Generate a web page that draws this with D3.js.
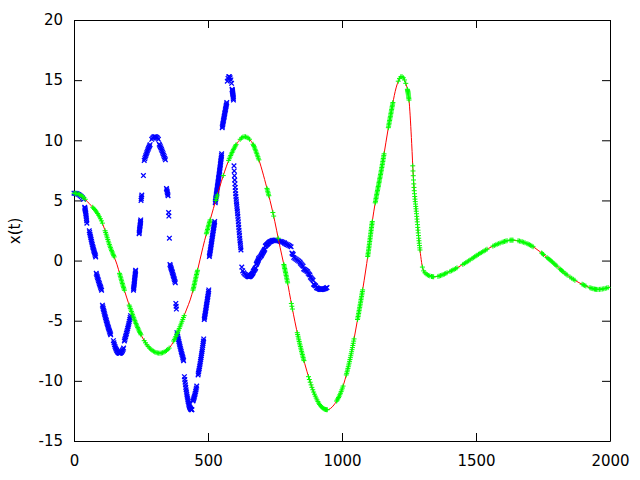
<!DOCTYPE html>
<html><head><meta charset="utf-8">
<script src="https://cdn.jsdelivr.net/npm/d3@7"></script>
<style>
body{margin:0;background:#fff}
svg{display:block}
</style>
</head><body>
<svg id="chart" width="640" height="480"></svg>
<script>
// Red reference curve x(t), control points
const curveT = [0, 20, 50, 108, 134, 160, 183, 209, 253, 283, 320, 358, 388, 414, 440, 459, 481, 507, 533, 556, 582, 610, 636, 662, 685, 720, 743, 769, 794, 813, 836, 869, 899, 925, 945, 970, 1000, 1030, 1058, 1078, 1097, 1114, 1149, 1179, 1205, 1222, 1241, 1251, 1260, 1266, 1279, 1291, 1303, 1320, 1345, 1403, 1460, 1515, 1578, 1634, 1701, 1776, 1840, 1899, 1955, 2000];
const curveX = [5.6, 5.5, 4.9, 3.0, 1.2, -0.3, -2.1, -3.9, -6.3, -7.3, -7.7, -7.2, -5.9, -4.4, -2.8, -1.0, 1.1, 3.3, 5.3, 7.0, 8.6, 9.8, 10.3, 9.9, 8.7, 6.0, 3.9, 1.1, -1.5, -3.8, -6.3, -9.2, -11.2, -12.2, -12.4, -12.0, -10.7, -8.2, -4.9, -2.3, 0.5, 3.4, 7.8, 11.8, 14.6, 15.3, 14.5, 13.1, 9.75, 7.0, 3.65, 0.88, -0.78, -1.2, -1.35, -0.9, -0.2, 0.6, 1.35, 1.7, 1.3, 0.05, -1.2, -2.0, -2.4, -2.2];

// Sample bursts: time span (green "+", on the curve) and the matching span on the
// compressed axis of the blue "x" copy, with the number of samples in each burst
const burstT0   = [0, 70, 116, 170, 206, 262, 372, 444, 494, 529, 557, 577, 620, 668, 720, 742, 762, 783, 811, 833, 875, 980, 1016, 1058, 1096, 1124, 1173, 1210, 1244, 1264, 1300, 1334, 1358, 1403, 1451, 1485, 1504, 1563, 1597, 1627, 1657, 1690, 1745, 1765, 1790, 1813, 1832, 1851, 1896, 1925, 1942, 1955];
const burstT1   = [42, 106, 150, 188, 250, 355, 411, 461, 508, 535, 557, 605, 655, 690, 727, 745, 762, 797, 815, 858, 945, 1004, 1045, 1077, 1113, 1157, 1190, 1238, 1250, 1291, 1328, 1342, 1392, 1429, 1478, 1500, 1541, 1590, 1616, 1638, 1683, 1713, 1752, 1785, 1802, 1825, 1840, 1869, 1910, 1937, 1950, 1993];
const burstTau0 = [0, 40, 57, 83, 106, 147, 188, 222, 243, 250, 259, 262, 290, 318, 345, 353, 356, 358, 380, 384, 412, 444, 463, 486, 505, 527, 553, 572, 590, 597, 626, 649, 656, 669, 680, 689, 699, 714, 728, 742, 760, 787, 813, 820, 845, 857, 874, 882, 894, 905, 916, 922];
const burstTau1 = [36, 48, 81, 103, 137, 185, 211, 230, 249, 253, 259, 284, 315, 341, 351, 354, 356, 378, 382, 409, 440, 458, 484, 503, 525, 551, 570, 588, 595, 623, 648, 654, 668, 678, 688, 698, 712, 726, 740, 757, 785, 810, 818, 843, 855, 872, 880, 892, 902, 914, 920, 944];
const burstCount = [9, 11, 18, 13, 22, 20, 16, 15, 11, 4, 1, 12, 8, 12, 6, 2, 1, 14, 3, 18, 23, 11, 20, 20, 24, 36, 19, 7, 12, 30, 7, 3, 8, 6, 6, 4, 8, 6, 5, 4, 6, 6, 3, 6, 4, 5, 3, 4, 4, 4, 3, 8];

const xTicks = [0, 500, 1000, 1500, 2000];
const yTicks = [-15, -10, -5, 0, 5, 10, 15, 20];
const yLabel = "x(t)";

const svg = d3.select("#chart");
const x = d3.scaleLinear().domain([0, 2000]).range([74, 610]);
const y = d3.scaleLinear().domain([-15, 20]).range([441, 20]);

// monotone cubic (same rule as d3.curveMonotoneX) evaluated in data space
const n = curveT.length;
const sgn = v => v < 0 ? -1 : 1;
const slopes = new Array(n);
for (let i = 1; i < n - 1; i++) {
  const h0 = curveT[i] - curveT[i-1], h1 = curveT[i+1] - curveT[i];
  const s0 = (curveX[i] - curveX[i-1]) / h0, s1 = (curveX[i+1] - curveX[i]) / h1;
  const p = (s0 * h1 + s1 * h0) / (h0 + h1);
  slopes[i] = (sgn(s0) + sgn(s1)) * Math.min(Math.abs(s0), Math.abs(s1), 0.5 * Math.abs(p)) || 0;
}
{
  const h = curveT[1] - curveT[0];
  slopes[0] = (3 * (curveX[1] - curveX[0]) / h - slopes[1]) / 2;
  const h2 = curveT[n-1] - curveT[n-2];
  slopes[n-1] = (3 * (curveX[n-1] - curveX[n-2]) / h2 - slopes[n-2]) / 2;
}
function curveAt(t) {
  let i = d3.bisectRight(curveT, t) - 1;
  i = Math.max(0, Math.min(n - 2, i));
  const h = curveT[i+1] - curveT[i];
  const u = (t - curveT[i]) / h;
  const u2 = u*u, u3 = u2*u;
  return (2*u3 - 3*u2 + 1) * curveX[i] + (u3 - 2*u2 + u) * h * slopes[i]
       + (-2*u3 + 3*u2) * curveX[i+1] + (u3 - u2) * h * slopes[i+1];
}

const samples = [];
burstT0.forEach((t0, k) => {
  const t1 = burstT1[k], a0 = burstTau0[k], a1 = burstTau1[k], c = burstCount[k];
  for (let j = 0; j < c; j++) {
    const f = c > 1 ? j / (c - 1) : 0;
    const t = t0 + (t1 - t0) * f;
    samples.push({t: t, tau: a0 + (a1 - a0) * f, v: curveAt(t)});
  }
});

// axes (border box with inward ticks on all sides)
const font = g => g.selectAll("text").attr("font-family", "DejaVu Sans, sans-serif").attr("font-size", 15).attr("fill", "#000");
const axStyle = g => { g.select(".domain").attr("stroke", "#000"); g.selectAll(".tick line").attr("stroke", "#000"); };

svg.append("g").attr("transform", "translate(0,441)")
  .call(d3.axisBottom(x).tickValues(xTicks).tickSizeInner(-8).tickSizeOuter(0).tickPadding(14).tickFormat(d => String(d)))
  .call(font).call(axStyle);
svg.append("g").attr("transform", "translate(0,20)")
  .call(d3.axisTop(x).tickValues(xTicks).tickSizeInner(-8).tickSizeOuter(0).tickFormat(""))
  .call(axStyle);
svg.append("g").attr("transform", "translate(74,0)")
  .call(d3.axisLeft(y).tickValues(yTicks).tickSizeInner(-8).tickSizeOuter(0).tickPadding(11).tickFormat(d => String(d)))
  .call(font).call(axStyle);
svg.append("g").attr("transform", "translate(610,0)")
  .call(d3.axisRight(y).tickValues(yTicks).tickSizeInner(-8).tickSizeOuter(0).tickFormat(""))
  .call(axStyle);

svg.append("text").attr("transform", "translate(20,231) rotate(-90)")
  .attr("text-anchor", "middle").attr("font-family", "DejaVu Sans, sans-serif")
  .attr("font-size", 15).attr("fill", "#000").text(yLabel);

const plot = svg.append("g");

// blue x: samples on the compressed axis
const xs = 2.3;
plot.append("g").selectAll("path").data(samples).join("path")
  .attr("transform", d => `translate(${x(d.tau)},${y(d.v)})`)
  .attr("d", `M${-xs},${-xs}L${xs},${xs}M${-xs},${xs}L${xs},${-xs}`)
  .attr("stroke", "#0000ff").attr("stroke-width", 1.3).attr("fill", "none");

// red curve
const pts = curveT.map((t, k) => [t, curveX[k]]);
plot.append("path").datum(pts)
  .attr("d", d3.line().x(d => x(d[0])).y(d => y(d[1])).curve(d3.curveMonotoneX))
  .attr("stroke", "#ff0000").attr("stroke-width", 1).attr("fill", "none");

// green +: samples vs time
const ps = 2.5;
plot.append("g").selectAll("path").data(samples).join("path")
  .attr("transform", d => `translate(${x(d.t)},${y(d.v)})`)
  .attr("d", `M${-ps},0H${ps}M0,${-ps}V${ps}`)
  .attr("stroke", "#00ff00").attr("stroke-width", 1).attr("fill", "none");
</script>
</body></html>
